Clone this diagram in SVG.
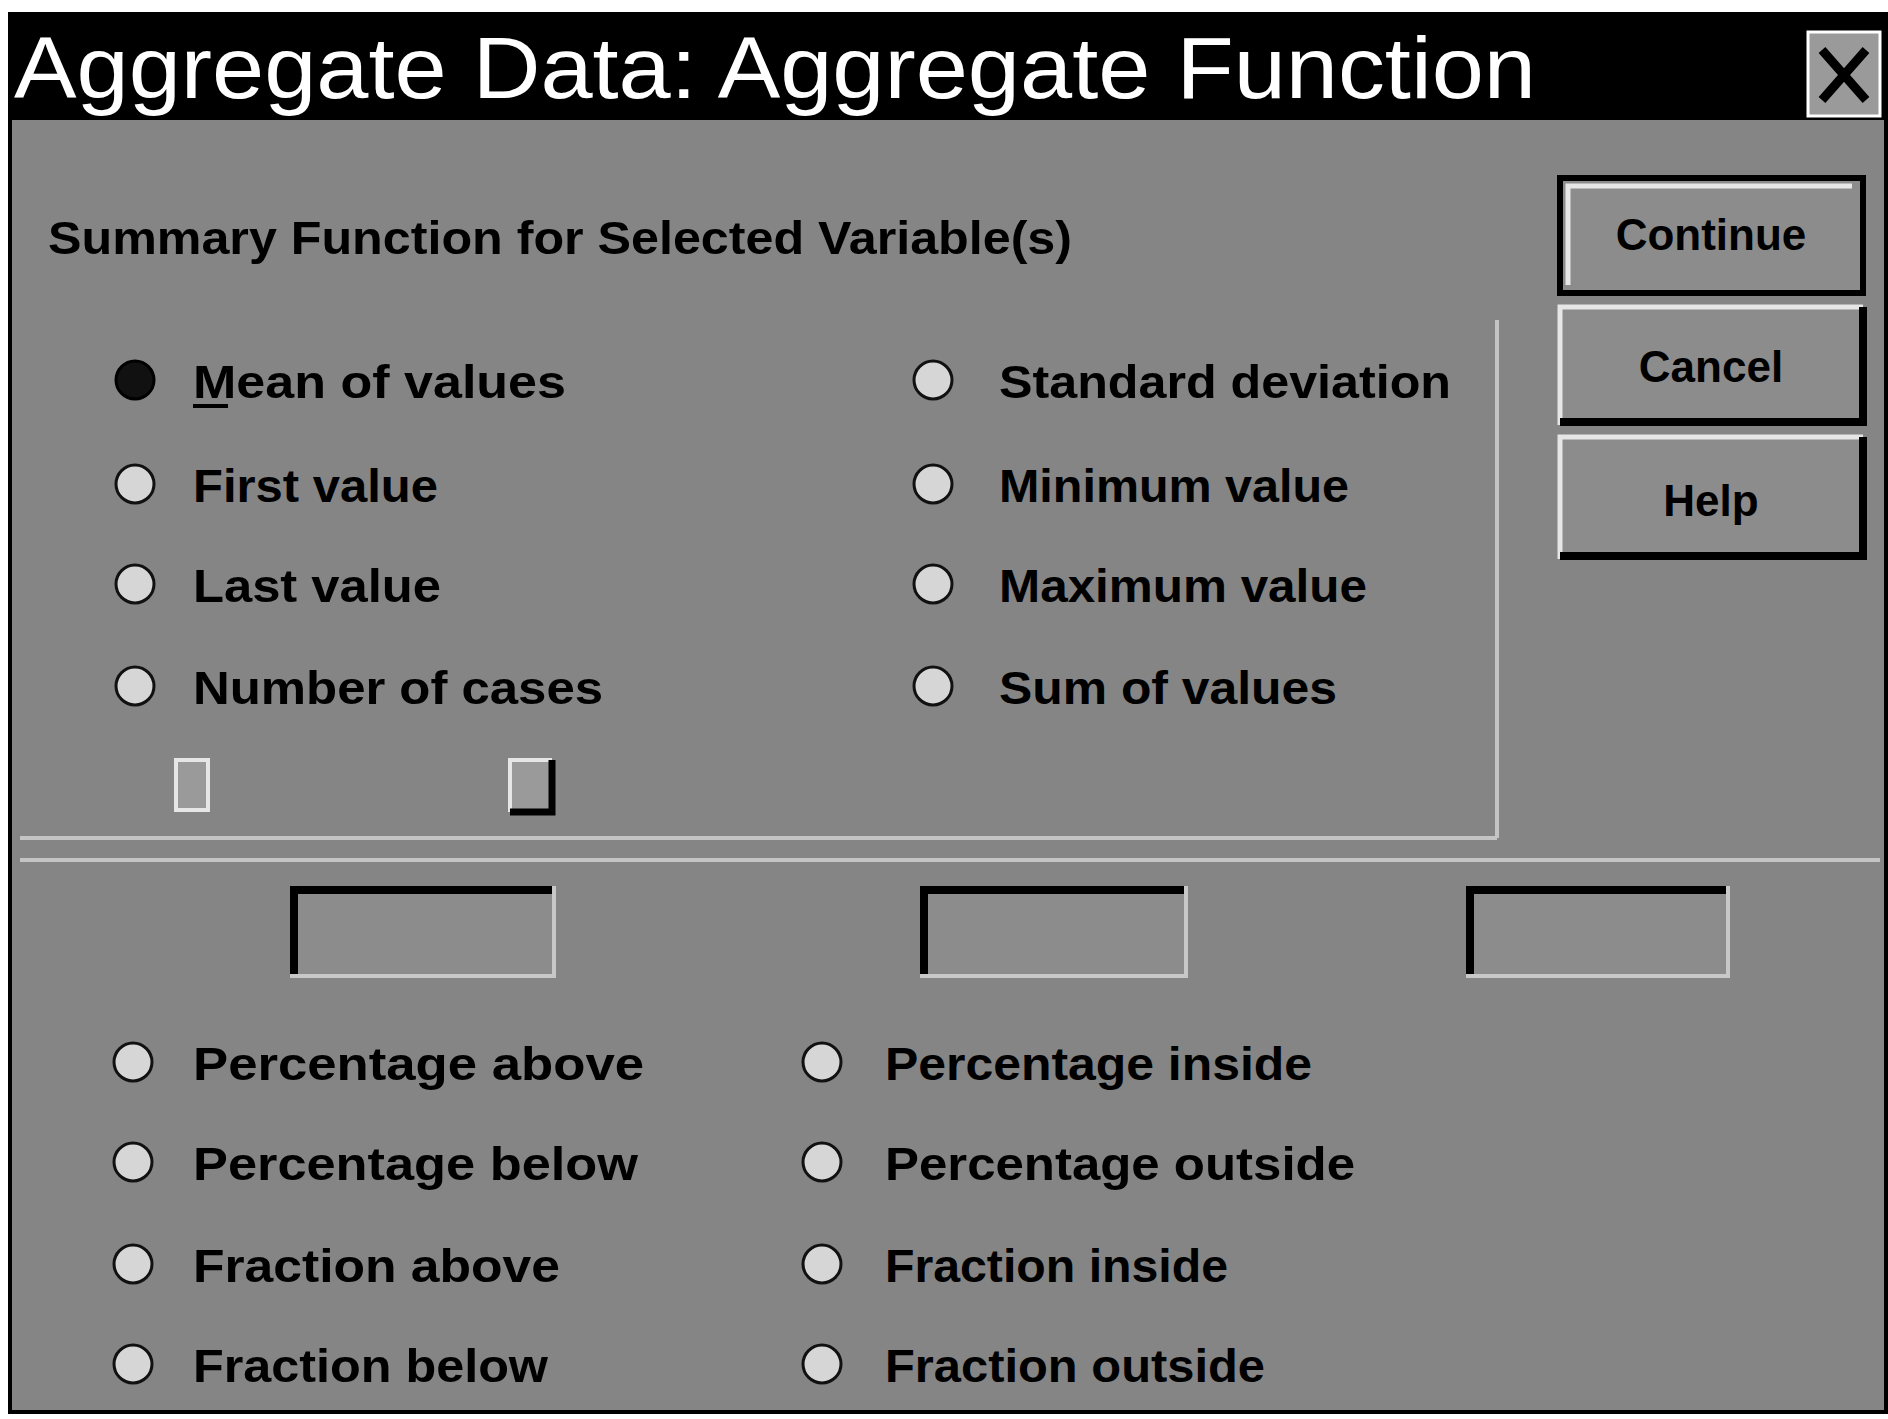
<svg xmlns="http://www.w3.org/2000/svg" width="1888" height="1419" viewBox="0 0 1888 1419">
<defs>
<style>
.lbl{font-family:"Liberation Sans",Arial,sans-serif;font-size:46px;font-weight:bold;fill:#000}
.title{font-family:"Liberation Sans",Arial,sans-serif;font-size:88px;fill:#fff}
.btn{font-family:"Liberation Sans",Arial,sans-serif;font-size:44px;font-weight:bold;fill:#000;text-anchor:middle}
.radio{fill:#d6d6d6;stroke:#111;stroke-width:3}
.etch{stroke:#c4c4c4;stroke-width:4;fill:none}
</style>
</defs>
<rect x="0" y="0" width="1888" height="1419" fill="#fff"/>
<!-- dialog body -->
<rect id="dialog" x="10" y="14" width="1876" height="1398" fill="#858585" stroke="#000" stroke-width="4"/>
<!-- title bar -->
<g id="titlebar">
<rect x="10" y="14" width="1876" height="106" fill="#000"/>
<text class="title" x="14" y="98" textLength="1522" lengthAdjust="spacingAndGlyphs">Aggregate Data: Aggregate Function</text>
<g id="close">
<rect x="1808" y="32" width="72" height="84" fill="#9a9a9a" stroke="#fff" stroke-width="3"/>
<path d="M1822 50 L1866 100 M1866 50 L1822 100" stroke="#000" stroke-width="9"/>
</g>
</g>
<g id="heading"><text class="lbl" x="48" y="254" textLength="1024" lengthAdjust="spacingAndGlyphs">Summary Function for Selected Variable(s)</text></g>
<!-- group frames -->
<g id="frames">
<path class="etch" d="M1497 320 L1497 838 M20 838 L1497 838"/>
<path class="etch" d="M20 860 L1880 860"/>
</g>
<!-- buttons -->
<g id="btn-continue">
<rect x="1560" y="178" width="303" height="115" fill="#8c8c8c" stroke="#000" stroke-width="6"/>
<path d="M1568 285 L1568 186 L1852 186" stroke="#e6e6e6" stroke-width="5" fill="none"/>
<text class="btn" x="1711" y="250">Continue</text>
</g>
<g id="btn-cancel">
<rect x="1560" y="307" width="303" height="118" fill="#8c8c8c"/>
<path d="M1560 425 L1560 307 L1863 307" stroke="#e6e6e6" stroke-width="5" fill="none"/>
<path d="M1560 422 L1863 422 L1863 307" stroke="#000" stroke-width="8" fill="none"/>
<text class="btn" x="1711" y="382">Cancel</text>
</g>
<g id="btn-help">
<rect x="1560" y="437" width="303" height="122" fill="#8c8c8c"/>
<path d="M1560 559 L1560 437 L1863 437" stroke="#e6e6e6" stroke-width="5" fill="none"/>
<path d="M1560 556 L1863 556 L1863 437" stroke="#000" stroke-width="8" fill="none"/>
<text class="btn" x="1711" y="516">Help</text>
</g>
<!-- top radios -->
<g id="opt-mean"><circle cx="135" cy="380" r="19" fill="#111" stroke="#000" stroke-width="3"/><text class="lbl" x="193" y="398" textLength="373" lengthAdjust="spacingAndGlyphs">Mean of values</text><line x1="193" y1="406" x2="228" y2="406" stroke="#000" stroke-width="4"/></g>
<g id="opt-first"><circle class="radio" cx="135" cy="484" r="19"/><text class="lbl" x="193" y="502" textLength="245" lengthAdjust="spacingAndGlyphs">First value</text></g>
<g id="opt-last"><circle class="radio" cx="135" cy="584" r="19"/><text class="lbl" x="193" y="602" textLength="248" lengthAdjust="spacingAndGlyphs">Last value</text></g>
<g id="opt-ncases"><circle class="radio" cx="135" cy="686" r="19"/><text class="lbl" x="193" y="704" textLength="410" lengthAdjust="spacingAndGlyphs">Number of cases</text></g>
<g id="opt-sd"><circle class="radio" cx="933" cy="380" r="19"/><text class="lbl" x="999" y="398" textLength="452" lengthAdjust="spacingAndGlyphs">Standard deviation</text></g>
<g id="opt-min"><circle class="radio" cx="933" cy="484" r="19"/><text class="lbl" x="999" y="502" textLength="350" lengthAdjust="spacingAndGlyphs">Minimum value</text></g>
<g id="opt-max"><circle class="radio" cx="933" cy="584" r="19"/><text class="lbl" x="999" y="602" textLength="368" lengthAdjust="spacingAndGlyphs">Maximum value</text></g>
<g id="opt-sum"><circle class="radio" cx="933" cy="686" r="19"/><text class="lbl" x="999" y="704" textLength="338" lengthAdjust="spacingAndGlyphs">Sum of values</text></g>
<!-- checkboxes -->
<g id="check-1"><rect x="176" y="760" width="32" height="50" fill="#9a9a9a" stroke="#e6e6e6" stroke-width="4"/></g>
<g id="check-2"><rect x="510" y="760" width="40" height="50" fill="#9a9a9a"/><path d="M510 812 L510 760 L552 760" stroke="#e6e6e6" stroke-width="4" fill="none"/><path d="M552 760 L552 812 L510 812" stroke="#000" stroke-width="7" fill="none"/></g>
<!-- value fields -->
<g id="field-1"><rect x="290" y="886" width="264" height="90" fill="#8c8c8c"/><path d="M294 976 L294 890 L554 890" stroke="#000" stroke-width="8" fill="none"/><path d="M290 976 L554 976 L554 886" stroke="#c8c8c8" stroke-width="4" fill="none"/></g>
<g id="field-2"><rect x="920" y="886" width="266" height="90" fill="#8c8c8c"/><path d="M924 976 L924 890 L1186 890" stroke="#000" stroke-width="8" fill="none"/><path d="M920 976 L1186 976 L1186 886" stroke="#c8c8c8" stroke-width="4" fill="none"/></g>
<g id="field-3"><rect x="1466" y="886" width="262" height="90" fill="#8c8c8c"/><path d="M1470 976 L1470 890 L1728 890" stroke="#000" stroke-width="8" fill="none"/><path d="M1466 976 L1728 976 L1728 886" stroke="#c8c8c8" stroke-width="4" fill="none"/></g>
<!-- bottom radios -->
<g id="opt-pabove"><circle class="radio" cx="133" cy="1062" r="19"/><text class="lbl" x="193" y="1080" textLength="451" lengthAdjust="spacingAndGlyphs">Percentage above</text></g>
<g id="opt-pbelow"><circle class="radio" cx="133" cy="1162" r="19"/><text class="lbl" x="193" y="1180" textLength="445" lengthAdjust="spacingAndGlyphs">Percentage below</text></g>
<g id="opt-fabove"><circle class="radio" cx="133" cy="1264" r="19"/><text class="lbl" x="193" y="1282" textLength="367" lengthAdjust="spacingAndGlyphs">Fraction above</text></g>
<g id="opt-fbelow"><circle class="radio" cx="133" cy="1364" r="19"/><text class="lbl" x="193" y="1382" textLength="355" lengthAdjust="spacingAndGlyphs">Fraction below</text></g>
<g id="opt-pinside"><circle class="radio" cx="822" cy="1062" r="19"/><text class="lbl" x="885" y="1080" textLength="427" lengthAdjust="spacingAndGlyphs">Percentage inside</text></g>
<g id="opt-poutside"><circle class="radio" cx="822" cy="1162" r="19"/><text class="lbl" x="885" y="1180" textLength="470" lengthAdjust="spacingAndGlyphs">Percentage outside</text></g>
<g id="opt-finside"><circle class="radio" cx="822" cy="1264" r="19"/><text class="lbl" x="885" y="1282" textLength="343" lengthAdjust="spacingAndGlyphs">Fraction inside</text></g>
<g id="opt-foutside"><circle class="radio" cx="822" cy="1364" r="19"/><text class="lbl" x="885" y="1382" textLength="380" lengthAdjust="spacingAndGlyphs">Fraction outside</text></g>
</svg>
